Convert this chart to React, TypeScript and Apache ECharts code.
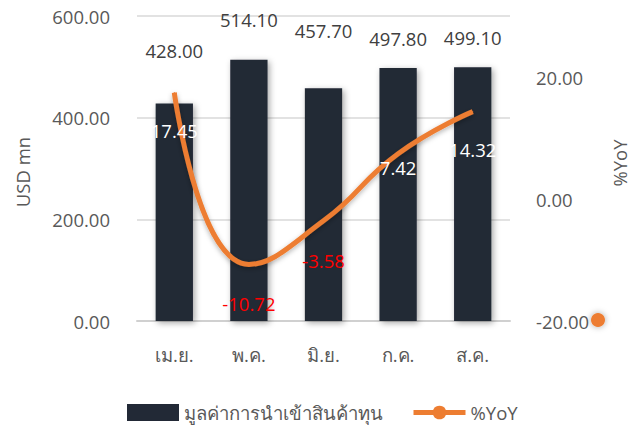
import React, { useEffect, useRef } from "react";
import * as echarts from "echarts";

const categories = ["เม.ย.", "พ.ค.", "มิ.ย.", "ก.ค.", "ส.ค."];
const importValues = [428.0, 514.1, 457.7, 497.8, 499.1];
const yoyValues = [17.45, -10.72, -3.58, 7.42, 14.32];
const barName = "มูลค่าการนำเข้าสินค้าทุน";
const lineName = "%YoY";

// styling only
const barLabelLift = [38, 26, 43, 15, 15];
const lineLabelDistance = [28, 29, 30, 4, 28];

const FONT = "'Open Sans', 'Noto Sans', sans-serif";
const GREY = "#595959";
const FS = 18.5;

export default function App() {
  const ref = useRef<HTMLDivElement>(null);
  useEffect(() => {
    if (!ref.current) return;
    const chart = echarts.init(ref.current, null, { renderer: "svg" });
    chart.setOption({
      animation: false,
      textStyle: { fontFamily: FONT },
      grid: { left: 137, right: 131, top: 16, bottom: 116, containLabel: false },
      legend: {
        left: 122,
        top: 398,
        itemWidth: 52,
        itemHeight: 17,
        itemGap: 28,
        textStyle: { fontSize: FS, color: GREY, fontFamily: FONT },
        data: [
          { name: barName, icon: "rect" },
          {
            name: lineName,
            itemStyle: { color: "#ED7D31" },
            lineStyle: { color: "#ED7D31", width: 5 },
          },
        ],
      },
      xAxis: {
        type: "category",
        data: categories,
        axisTick: { show: false },
        axisLine: { lineStyle: { color: "#d0d0d0", width: 2 } },
        axisLabel: { color: GREY, fontSize: FS, margin: 24, fontFamily: FONT },
      },
      yAxis: [
        {
          type: "value",
          min: 0,
          max: 600,
          interval: 200,
          axisLine: { show: false },
          axisTick: { show: false },
          splitLine: { lineStyle: { color: "#d9d9d9", width: 1.5 } },
          axisLabel: {
            color: GREY,
            fontSize: FS,
            margin: 27,
            fontFamily: FONT,
            formatter: (v: number) => v.toFixed(2),
          },
        },
        {
          type: "value",
          min: -20,
          max: 30,
          interval: 20,
          axisLine: { show: false },
          axisTick: { show: false },
          splitLine: { show: false },
          axisLabel: {
            color: GREY,
            fontSize: FS,
            margin: 26,
            fontFamily: FONT,
            showMaxLabel: false,
            formatter: (v: number) => v.toFixed(2),
          },
        },
      ],
      series: [
        {
          name: barName,
          type: "bar",
          barWidth: "50%",
          itemStyle: {
            color: "#222936",
            shadowBlur: 6,
            shadowColor: "rgba(0,0,0,0.35)",
            shadowOffsetX: 2,
            shadowOffsetY: 2,
          },
          data: importValues.map((v, i) => ({
            value: v,
            label: {
              show: true,
              position: "top",
              offset: [0, -barLabelLift[i]],
              color: "#404040",
              fontSize: FS,
              fontFamily: FONT,
              formatter: (p: any) => Number(p.value).toFixed(2),
            },
          })),
        },
        {
          name: lineName,
          type: "line",
          yAxisIndex: 1,
          smooth: true,
          symbol: "circle",
          symbolSize: 1,
          showSymbol: true,
          z: 5,
          itemStyle: { color: "#ED7D31" },
          lineStyle: {
            color: "#ED7D31",
            width: 5,
            shadowBlur: 5,
            shadowColor: "rgba(0,0,0,0.3)",
            shadowOffsetY: 2,
          },
          data: yoyValues.map((v, i) => ({
            value: v,
            label: {
              show: true,
              position: "bottom",
              distance: lineLabelDistance[i],
              color: v < 0 ? "#FF0000" : "#FFFFFF",
              fontSize: FS,
              fontFamily: FONT,
              formatter: (p: any) => Number(p.value).toFixed(2),
            },
          })),
          labelLayout: { hideOverlap: false },
        },
      ],
      graphic: [
        {
          type: "text",
          x: 22,
          y: 172,
          rotation: Math.PI / 2,
          style: {
            text: "USD mn",
            fill: GREY,
            font: `${FS}px ${FONT}`,
            align: "center",
            verticalAlign: "middle",
          },
        },
        {
          type: "text",
          x: 619,
          y: 163,
          rotation: Math.PI / 2,
          style: {
            text: "%YoY",
            fill: GREY,
            font: `${FS}px ${FONT}`,
            align: "center",
            verticalAlign: "middle",
          },
        },
        {
          type: "circle",
          x: 598,
          y: 320,
          shape: { r: 7 },
          style: {
            fill: "#ED7D31",
            shadowBlur: 6,
            shadowColor: "rgba(0,0,0,0.35)",
          },
        },
      ],
    });
    return () => chart.dispose();
  }, []);
  return (
    <div
      ref={ref}
      style={{ position: "absolute", left: 0, top: 0, width: 641, height: 437 }}
    />
  );
}
